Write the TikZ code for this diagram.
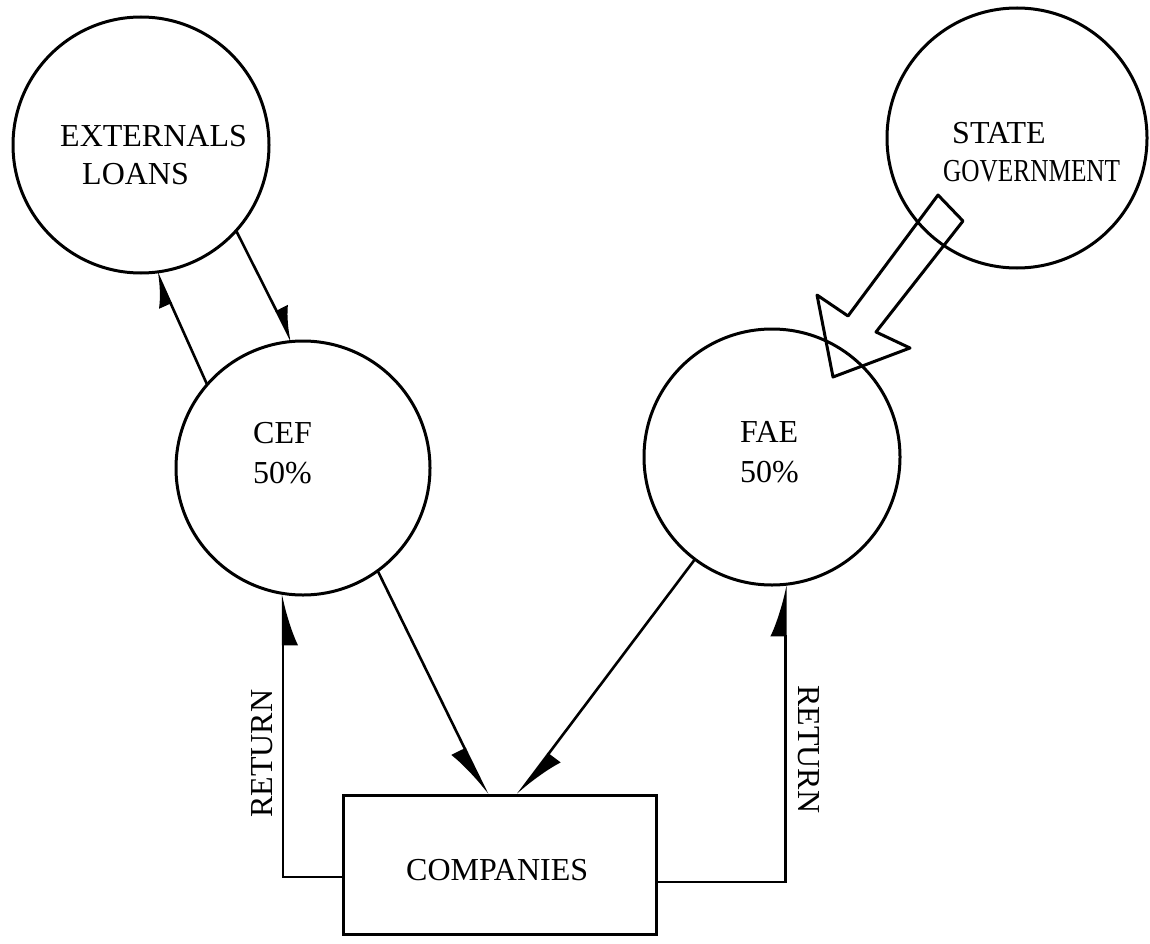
\documentclass[tikz,border=0pt]{standalone}
\usepackage{fontspec}
\setmainfont{Liberation Serif}
\usepackage{graphicx}
\usetikzlibrary{arrows.meta,calc}
\tikzset{
  lbl/.style={font=\fontsize{32}{38}\selectfont, inner sep=0pt, anchor=base west},
  bubble/.style={circle, draw, line width=3pt, inner sep=0pt, outer sep=0pt},
  box/.style={rectangle, draw, line width=3pt, inner sep=0pt, outer sep=0pt,
              minimum width=313pt, minimum height=139pt},
  conn/.style={line width=2.6pt},
  tipL/.style={-{Latex[harpoon,length=46pt,width=30pt]}},
  tipLs/.style={-{Latex[harpoon,swap,length=46pt,width=30pt]}},
  tipS/.style={-{Latex[harpoon,length=30pt,width=26pt]}},
  hollow/.style={line width=3pt, line join=round}
}
\begin{document}
\begin{tikzpicture}[x=1pt,y=-1pt]
\useasboundingbox (0,0) rectangle (1150,944);
% circles
\node[bubble, minimum size=256pt] (ext) at (141,145) {};
\node[bubble, minimum size=260pt] (gov) at (1017,138) {};
\node[bubble, minimum size=254pt] (cef) at (303,468) {};
\node[bubble, minimum size=256pt] (fae) at (772,457) {};
\node[box] (comp) at (499.5,864.5) {};
% texts
\node[lbl] (extA) at (60,147) {EXTERNALS};
\node[lbl] (extB) at (82,185) {LOANS};
\node[lbl] (govA) at (952,144) {STATE};
\node[lbl] (govB) at (943,182) {\scalebox{0.79}[1]{GOVERNMENT}};
\node[lbl] (cefA) at (253,443) {CEF};
\node[lbl] (cefB) at (253,483) {50\%};
\node[lbl] (faeA) at (740,442) {FAE};
\node[lbl] (faeB) at (740,482) {50\%};
\node[lbl] (compT) at (406,880) {COMPANIES};
\node[lbl, rotate=90] (retL) at (272,818) {RETURN};
\node[lbl, rotate=-90] (retR) at (798,685) {RETURN};
% connectors
\draw[conn, tipS] (cef.139.7) -- (ext.-83.6);
\draw[conn, tipS] (ext.-42.1) -- (cef.95.9);
\draw[conn, tipLs] (cef.-54.5) -- ($(comp.north)+(-12,0)$);
\draw[conn, tipL] (fae.-127.3) -- ($(comp.north)+(18,0)$);
\draw[conn, tipLs] ($(comp.south west)+(0,-57)$) -| (cef.-99);
\draw[conn, tipL] ($(comp.south east)+(0,-52)$) -| (fae.-84.6);
% hollow arrow from state government to FAE
\draw[hollow] (938,195) -- (963,221) -- (876,332) -- (910,348) -- (833,377)
  -- (817,295) -- (848,316) -- cycle;
\end{tikzpicture}
\end{document}
